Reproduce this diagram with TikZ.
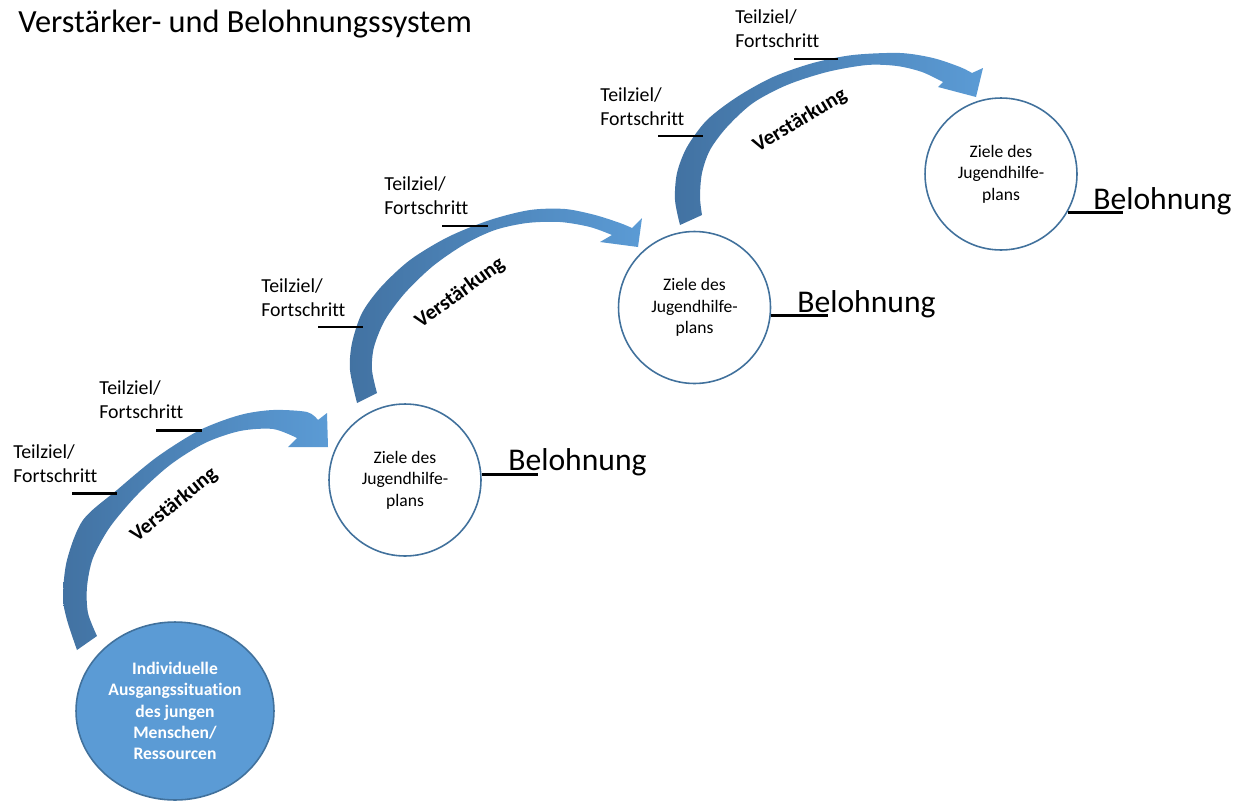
\documentclass[tikz,border=0pt]{standalone}
\usepackage{fontspec}
\setmainfont{Carlito}[Ligatures=CommonOff]
\usetikzlibrary{shapes.geometric}

\definecolor{hellblau}{RGB}{91,155,213}
\definecolor{randblau}{RGB}{65,113,156}
\definecolor{dunkelblau}{RGB}{66,114,162}

\tikzset{
  ziel/.style={circle, draw=randblau, line width=0.9pt, fill=white, minimum size=3.04cm,
    inner sep=0pt, align=center, font=\fontsize{10}{12.2}\selectfont},
  quelle/.style={ellipse, draw=randblau, line width=0.9pt, fill=hellblau, minimum width=3.96cm,
    minimum height=3.56cm, inner sep=0pt, align=center, text=white,
    font=\bfseries\fontsize{10}{12.2}\selectfont},
  teil/.style={anchor=base west, inner sep=0pt, align=left, font=\fontsize{11.3}{13.6}\selectfont},
  verst/.style={font=\bfseries\fontsize{12}{14}\selectfont},
  lohn/.style={anchor=base west, inner sep=0pt, font=\fontsize{18}{22}\selectfont},
  strich/.style={line width=1.7pt},
  bogen/.style={left color=dunkelblau, right color=hellblau},
}

\begin{document}
\begin{tikzpicture}[x=0.02cm, y=-0.02cm]
  \useasboundingbox (0,0) rectangle (1243,801);

  \node[anchor=base west, inner sep=0pt, font=\fontsize{18.4}{22}\selectfont] (titel) at (18,32) {Verstärker- und Belohnungssystem};

  % Pfeile
  \shade[bogen] plot[smooth] coordinates {(77,650) (67,620) (63,597) (67,560) (83,520) (117,490) (157,457) (200,430) (240,415) (273,410) (307,412) (318,420)}
    -- (327,413) -- (328,447) -- (288,447)
    -- plot[smooth] coordinates {(297,438) (273,429) (240,431) (205,443) (170,465) (137,495) (110,527) (93,558) (87,587) (88,613) (97,636)} -- cycle;

  \shade[bogen] plot[smooth] coordinates {(357,403) (350,370) (352,343) (362,313) (381,287) (410,260) (448,237) (490,220) (530,210) (565,209) (595,215) (620,223) (632,228)}
    -- (642,218) -- (638,247) -- (600,242)
    -- plot[smooth] coordinates {(612,235) (590,227) (560,222) (527,223) (495,230) (465,244) (433,266) (405,293) (385,320) (374,347) (372,370) (377,393)} -- cycle;

  \shade[bogen] plot[smooth] coordinates {(680,225) (675,200) (677,173) (687,147) (707,120) (737,97) (773,77) (813,63) (853,55) (900,53) (933,58) (960,67) (972,73)}
    -- (983,68) -- (976,97) -- (938,87)
    -- plot[smooth] coordinates {(943,82) (922,72) (897,66) (867,65) (827,72) (787,85) (753,103) (727,127) (710,150) (702,173) (700,197) (702,215)} -- cycle;

  \node[verst, rotate=39] (v1) at (174,505) {Verstärkung};
  \node[verst, rotate=36] (v2) at (460,293) {Verstärkung};
  \node[verst, rotate=31] (v3) at (800,121) {Verstärkung};

  % Kreise
  \node[quelle] (q) at (175,711) {Individuelle\\Ausgangssituation\\des jungen\\Menschen/\\Ressourcen};
  \node[ziel] (z1) at (405,480) {Ziele des\\Jugendhilfe-\\plans};
  \node[ziel] (z2) at (694.5,307.5) {Ziele des\\Jugendhilfe-\\plans};
  \node[ziel] (z3) at (1001,174) {Ziele des\\Jugendhilfe-\\plans};

  % Belohnung
  \node[lohn] (b1) at (508,470) {Belohnung};
  \node[lohn] (b2) at (797,312) {Belohnung};
  \node[lohn] (b3) at (1093,209) {Belohnung};
  \coordinate (e1) at (538,475);
  \coordinate (e2) at (828,316);
  \coordinate (e3) at (1123,212);
  \draw[strich] (z1.4) -- (z1.4 -| e1);
  \draw[strich] (z2.-6) -- (z2.-6 -| e2);
  \draw[strich] (z3.-30) -- (z3.-30 -| e3);

  % Teilziele (Anker: Grundlinie der zweiten Zeile)
  \node[teil] (t1) at (13,482) {Teilziel/\\Fortschritt};
  \node[teil] (t2) at (99,418) {Teilziel/\\Fortschritt};
  \node[teil] (t3) at (261,316) {Teilziel/\\Fortschritt};
  \node[teil] (t4) at (384,214) {Teilziel/\\Fortschritt};
  \node[teil] (t5) at (600,125) {Teilziel/\\Fortschritt};
  \node[teil] (t6) at (735,47) {Teilziel/\\Fortschritt};
  \coordinate (t1l) at (72,493);   \coordinate (t1r) at (117,493);
  \coordinate (t2l) at (156,430);  \coordinate (t2r) at (202,430);
  \coordinate (t3l) at (318,327);  \coordinate (t3r) at (363,327);
  \coordinate (t4l) at (442,226);  \coordinate (t4r) at (488,226);
  \coordinate (t5l) at (658,136);  \coordinate (t5r) at (703,136);
  \coordinate (t6l) at (794,59);   \coordinate (t6r) at (838,59);
  \draw[strich] (t1l) -- (t1r);
  \draw[strich] (t2l) -- (t2r);
  \draw[strich] (t3l) -- (t3r);
  \draw[strich] (t4l) -- (t4r);
  \draw[strich] (t5l) -- (t5r);
  \draw[strich] (t6l) -- (t6r);
\end{tikzpicture}
\end{document}
